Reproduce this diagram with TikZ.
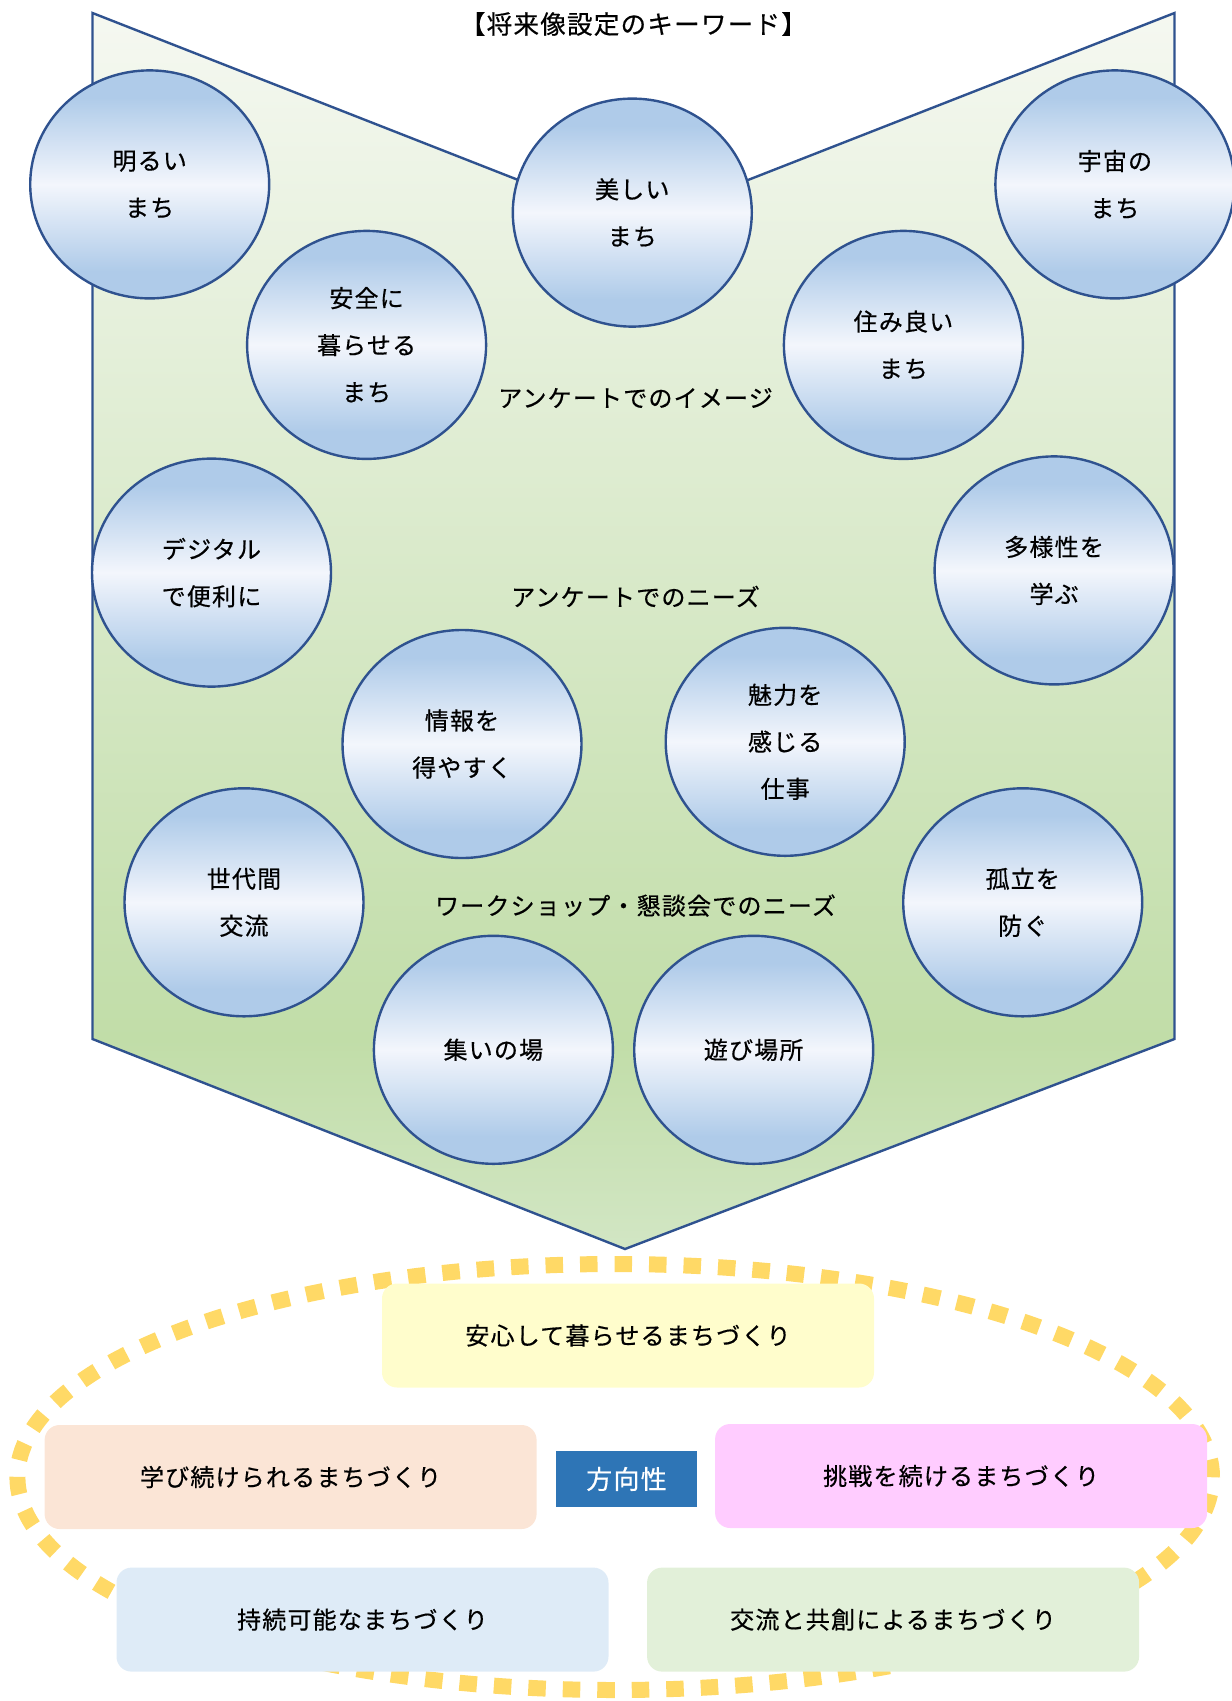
\documentclass[tikz,border=0pt]{standalone}
\usepackage{fontspec}
\usetikzlibrary{shapes.geometric}
\newfontfamily\jpf[LetterSpace=5, FakeBold=0.5]{Noto Sans CJK JP}
\definecolor{cB}{HTML}{AFCBE9}
\definecolor{cW}{HTML}{F3F6FC}
\definecolor{cE}{HTML}{2F528F}
\definecolor{gT}{HTML}{F5F8F1}
\definecolor{gM}{HTML}{C1DDA8}
\definecolor{gB}{HTML}{D2E6C4}
\definecolor{dashY}{HTML}{FFD966}
\definecolor{bYel}{HTML}{FFFDCC}
\definecolor{bOra}{HTML}{FBE5D6}
\definecolor{bPnk}{HTML}{FFCCFF}
\definecolor{bBlu}{HTML}{DEEBF7}
\definecolor{bGrn}{HTML}{E2F0D9}
\definecolor{hBlu}{HTML}{2E75B6}
\pgfdeclareverticalshading{circshade}{100bp}{color(0bp)=(cB); color(25bp)=(cB); color(31bp)=(cB); color(50bp)=(cW); color(69bp)=(cB); color(75bp)=(cB); color(100bp)=(cB)}
\pgfdeclareverticalshading{greenshade}{100bp}{color(0bp)=(gB); color(25bp)=(gB); color(33.5bp)=(gM); color(75bp)=(gT); color(100bp)=(gT)}
\tikzset{
  kw/.style={ellipse, draw=cE, line width=2.4pt, shading=circshade, minimum width=239pt, minimum height=228pt, inner sep=0pt, align=center, font=\jpf\fontsize{24}{47}\selectfont},
  lbl/.style={font=\jpf\fontsize{24}{30}\selectfont, inner sep=0pt},
  pbox/.style={rounded corners=15pt, minimum width=492pt, minimum height=104pt, inner sep=0pt, font=\jpf\fontsize{24}{30}\selectfont},
}
\begin{document}
\begin{tikzpicture}[x=1pt,y=-1pt]
\useasboundingbox (0,0) rectangle (1232,1701);
\clip (0,0) rectangle (1232,1701);
% chevron background
\path[shading=greenshade, draw=cE, line width=2.4pt]
  (92.5,13) -- (633,225) -- (1174.5,13) -- (1174.5,1039) -- (625,1249) -- (92.5,1039) -- cycle;
% title and labels
\node[lbl, font=\jpf\fontsize{25.5}{30}\selectfont] (title) at (633.4,24) {【将来像設定のキーワード】};
\node[lbl] (l1) at (635.5,398) {アンケートでのイメージ};
\node[lbl] (l2) at (635.5,596.5) {アンケートでのニーズ};
\node[lbl] (l3) at (635.5,905.6) {ワークショップ・懇談会でのニーズ};
% keyword ellipses
\node[kw] (c1) at (149.7,184.4) {明るい\\まち};
\node[kw] (c2) at (632.3,212.6) {美しい\\まち};
\node[kw] (c3) at (1114.9,184.4) {宇宙の\\まち};
\node[kw] (c4) at (366.6,344.9) {安全に\\暮らせる\\まち};
\node[kw] (c5) at (903.4,344.9) {住み良い\\まち};
\node[kw] (c6) at (211.5,572.6) {デジタル\\で便利に};
\node[kw] (c7) at (1054.1,570.4) {多様性を\\学ぶ};
\node[kw] (c8) at (462.0,744.0) {情報を\\得やすく};
\node[kw] (c9) at (785.2,741.8) {魅力を\\感じる\\仕事};
\node[kw] (c10) at (244.0,902.3) {世代間\\交流};
\node[kw] (c11) at (1022.7,902.3) {孤立を\\防ぐ};
\node[kw] (c12) at (493.4,1049.8) {集いの場};
\node[kw] (c13) at (753.7,1049.8) {遊び場所};
% dashed ellipse
\draw[dashY, line width=16pt, dash pattern=on 17.5pt off 17pt] (614.7,1477) ellipse [x radius=597.3pt, y radius=213pt];
% direction boxes
\node[pbox, fill=bYel] (p1) at (628,1335.5) {安心して暮らせるまちづくり};
\node[pbox, fill=bOra] (p2) at (290.6,1477) {学び続けられるまちづくり};
\node[pbox, fill=bPnk] (p3) at (961.1,1476) {挑戦を続けるまちづくり};
\node[pbox, fill=bBlu] (p4) at (362.5,1619.6) {持続可能なまちづくり};
\node[pbox, fill=bGrn] (p5) at (893.1,1619.6) {交流と共創によるまちづくり};
\node[fill=hBlu, text=white, minimum width=140.6pt, minimum height=56pt, inner sep=0pt, font=\jpf\fontsize{26}{30}\selectfont] (dir) at (626.5,1479) {方向性};
\end{tikzpicture}
\end{document}
